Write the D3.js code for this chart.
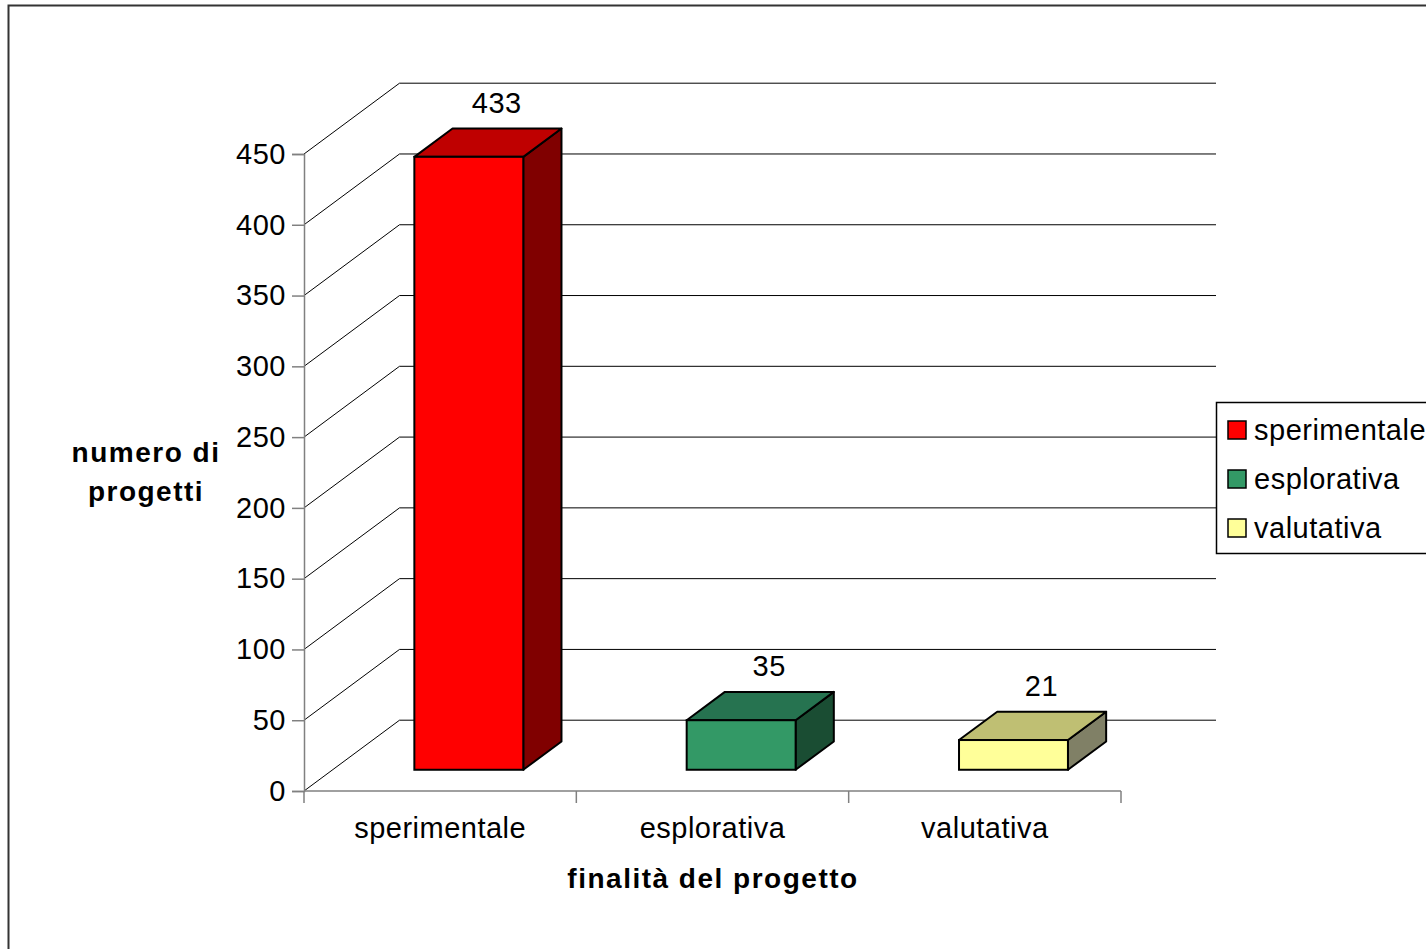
<!DOCTYPE html>
<html>
<head>
<meta charset="utf-8">
<script src="https://cdn.jsdelivr.net/npm/d3@7"></script>
<style>
  body { margin: 0; background: #fff; }
  text { font-family: "Liberation Sans", Arial, sans-serif; fill: #000; }
</style>
</head>
<body>
<div id="chart"></div>
<script>
// data
const categories = ["sperimentale", "esplorativa", "valutativa"];
const values = [433, 35, 21];
const yTicks = [0, 50, 100, 150, 200, 250, 300, 350, 400, 450];
const frontColors = ["#ff0000", "#339966", "#ffff99"];
const topColors = ["#bf0000", "#267350", "#bfbf73"];
const sideColors = ["#800000", "#1a4d33", "#808066"];

const W = 1426, H = 949;
const svg = d3.select("#chart").append("svg")
    .attr("width", W)
    .attr("height", H);

// outer frame
svg.append("rect")
    .attr("x", 8.5).attr("y", 5.5)
    .attr("width", 1500).attr("height", 1000)
    .attr("fill", "none")
    .attr("stroke", "#333")
    .attr("stroke-width", 2);

// scales (front plane)
const x = d3.scaleBand().domain(categories).range([304, 1121]).paddingInner(0).paddingOuter(0);
const y = d3.scaleLinear().domain([0, 450]).range([791, 154]);

// depth of the 3d box
const depthX = 95.5, depthY = -70.8;
const backRight = 1216;

// walls: diagonals on left wall + back wall gridlines
const grid = svg.append("g").attr("class", "grid");
yTicks.forEach(t => {
    grid.append("line")
        .attr("x1", 304).attr("y1", y(t))
        .attr("x2", 304 + depthX).attr("y2", y(t) + depthY)
        .attr("stroke", "#000").attr("stroke-width", 1);
    grid.append("line")
        .attr("x1", 304 + depthX).attr("y1", y(t) + depthY)
        .attr("x2", backRight).attr("y2", y(t) + depthY)
        .attr("stroke", "#000").attr("stroke-width", 1);
});

// y axis
const yAxis = svg.append("g")
    .attr("transform", "translate(304,0)")
    .call(d3.axisLeft(y).tickValues(yTicks).tickSize(12).tickPadding(6));
yAxis.select(".domain").attr("stroke", "#808080").attr("stroke-width", 1.5);
yAxis.selectAll(".tick line").attr("stroke", "#808080").attr("stroke-width", 1.5);
yAxis.selectAll(".tick text")
    .style("font-family", "Liberation Sans, Arial, sans-serif")
    .style("font-size", "29px")
    .style("letter-spacing", "0.5px")
    .attr("fill", "#000");

// x axis
const xAxis = svg.append("g")
    .attr("transform", "translate(0,791)");
xAxis.append("line")
    .attr("x1", x.range()[0]).attr("x2", x.range()[1])
    .attr("stroke", "#808080").attr("stroke-width", 1.5);
const edges = categories.map(c => x(c)).concat([x.range()[1]]);
xAxis.selectAll(".edge").data(edges).enter()
    .append("line")
    .attr("x1", d => d).attr("x2", d => d)
    .attr("y1", 0).attr("y2", 12)
    .attr("stroke", "#808080").attr("stroke-width", 1.5);
xAxis.selectAll(".lab").data(categories).enter()
    .append("text")
    .attr("x", d => x(d) + x.bandwidth() / 2)
    .attr("y", 47)
    .attr("text-anchor", "middle")
    .style("font-size", "29px")
    .style("letter-spacing", "0.5px")
    .text(d => d);

// bars (3d boxes), placed between 0.3 and 0.7 of depth
const f0 = 0.3, f1 = 0.7;
const bars = svg.append("g").attr("class", "bars");
categories.forEach((c, i) => {
    const bw = x.bandwidth() * 0.4;
    const x0 = x(c) + x.bandwidth() * 0.3 + depthX * f0;
    const yb = y(0) + depthY * f0;
    const yt = y(values[i]) + depthY * f0;
    const dx = depthX * (f1 - f0), dy = depthY * (f1 - f0);
    const g = bars.append("g");
    // side
    g.append("path")
        .attr("d", `M${x0 + bw},${yt} L${x0 + bw + dx},${yt + dy} L${x0 + bw + dx},${yb + dy} L${x0 + bw},${yb} Z`)
        .attr("fill", sideColors[i]).attr("stroke", "#000").attr("stroke-width", 2).attr("stroke-linejoin", "round");
    // top
    g.append("path")
        .attr("d", `M${x0},${yt} L${x0 + dx},${yt + dy} L${x0 + bw + dx},${yt + dy} L${x0 + bw},${yt} Z`)
        .attr("fill", topColors[i]).attr("stroke", "#000").attr("stroke-width", 2).attr("stroke-linejoin", "round");
    // front
    g.append("rect")
        .attr("x", x0).attr("y", yt)
        .attr("width", bw).attr("height", yb - yt)
        .attr("fill", frontColors[i]).attr("stroke", "#000").attr("stroke-width", 2);
    // value label
    g.append("text")
        .attr("x", x0 + bw / 2 + 28)
        .attr("y", yt - 44)
        .attr("text-anchor", "middle")
        .style("font-size", "29px")
        .style("letter-spacing", "0.5px")
        .text(values[i]);
});

// axis titles
const yTitle = svg.append("text")
    .attr("text-anchor", "middle")
    .style("font-size", "28px")
    .style("font-weight", "bold")
    .style("letter-spacing", "1.5px");
yTitle.append("tspan").attr("x", 146).attr("y", 462).text("numero di");
yTitle.append("tspan").attr("x", 146).attr("y", 501).text("progetti");

svg.append("text")
    .attr("x", 713).attr("y", 888)
    .attr("text-anchor", "middle")
    .style("font-size", "28px")
    .style("font-weight", "bold")
    .style("letter-spacing", "1.5px")
    .text("finalità del progetto");

// legend
const legend = svg.append("g").attr("transform", "translate(1216,402)");
legend.append("rect")
    .attr("x", 0.5).attr("y", 0.5)
    .attr("width", 300).attr("height", 151)
    .attr("fill", "#fff").attr("stroke", "#000").attr("stroke-width", 1.5);
categories.forEach((c, i) => {
    const item = legend.append("g").attr("transform", `translate(12,${28 + i * 49})`);
    item.append("rect")
        .attr("x", 0).attr("y", -9)
        .attr("width", 18).attr("height", 18)
        .attr("fill", frontColors[i]).attr("stroke", "#000").attr("stroke-width", 1.5);
    item.append("text")
        .attr("x", 26).attr("y", 0)
        .attr("dy", "0.35em")
        .style("font-size", "29px")
        .style("letter-spacing", "0.5px")
        .text(c);
});
</script>
</body>
</html>
